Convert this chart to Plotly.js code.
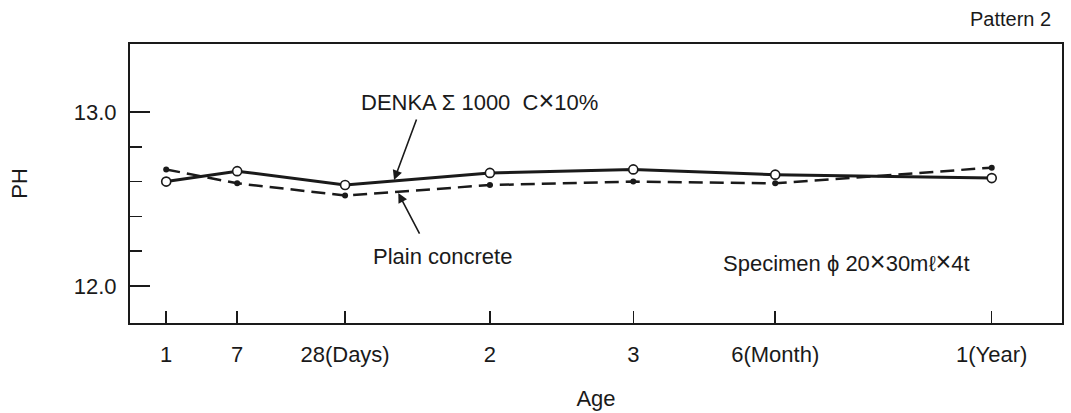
<!DOCTYPE html>
<html>
<head>
<meta charset="utf-8">
<script src="https://cdn.plot.ly/plotly-3.0.1.min.js"></script>
<style>
  html, body { margin: 0; padding: 0; background: #ffffff; }
  #chart { width: 1071px; height: 413px; }
</style>
</head>
<body>
<div id="chart"></div>
<script>
// Age categories (positions along the axis follow the original, uneven spacing)
const ageLabels = ["1", "7", "28(Days)", "2", "3", "6(Month)", "1(Year)"];
const agePos = [0, 1, 2.52, 4.56, 6.58, 8.58, 11.63];

// pH values
const denkaPH = [12.60, 12.66, 12.58, 12.65, 12.67, 12.64, 12.62];
const plainPH = [12.67, 12.59, 12.52, 12.58, 12.60, 12.59, 12.68];

// minor pH ticks between the labelled values
const minorPH = [12.2, 12.4, 12.6, 12.8];

const FONT = "Liberation Sans, Arial, Helvetica, sans-serif";
const INK = "#1a1a1a";
const X = '<span style="font-size:27px">×</span>';

const traces = [
  {
    x: agePos, y: plainPH, type: "scatter", mode: "lines+markers",
    name: "Plain concrete",
    line: { color: INK, width: 2.5, dash: "14px,7px" },
    marker: { color: INK, size: 6, symbol: "circle" },
    hoverinfo: "skip"
  },
  {
    x: agePos, y: denkaPH, type: "scatter", mode: "lines+markers",
    name: "DENKA Σ1000 C×10%",
    line: { color: INK, width: 3 },
    marker: { color: "#ffffff", size: 9, symbol: "circle", line: { color: INK, width: 1.6 } },
    hoverinfo: "skip"
  }
];

const layout = {
  width: 1071, height: 413,
  margin: { l: 130, r: 9, t: 44, b: 90 },
  paper_bgcolor: "#ffffff", plot_bgcolor: "#ffffff",
  showlegend: false,
  font: { family: FONT, size: 22, color: INK },
  xaxis: {
    range: [-0.51, 12.62],
    tickmode: "array", tickvals: agePos, ticktext: ageLabels,
    ticks: "inside", ticklen: 12, tickwidth: 1.5, tickcolor: INK,
    ticklabelstandoff: 11,
    showgrid: false, zeroline: false,
    showline: true, linecolor: INK, linewidth: 2, mirror: true,
    tickfont: { family: FONT, size: 22, color: INK },
    title: { text: "Age", font: { family: FONT, size: 22, color: INK }, standoff: 24 }
  },
  yaxis: {
    range: [11.787, 13.391],
    tick0: 12, dtick: 1, tickformat: ".1f",
    ticks: "inside", ticklen: 20, tickwidth: 1.5, tickcolor: INK,
    minor: { tickmode: "array", tickvals: minorPH, ticks: "inside", ticklen: 12, tickwidth: 1.5, tickcolor: INK, showgrid: false },
    ticklabelstandoff: 7,
    showgrid: false, zeroline: false,
    showline: true, linecolor: INK, linewidth: 2, mirror: true,
    tickfont: { family: FONT, size: 22, color: INK },
    title: { text: "PH", font: { family: FONT, size: 22, color: INK }, standoff: 40 }
  },
  annotations: [
    { xref: "paper", yref: "paper", x: 0.3755, y: 0.7957, xanchor: "center", yanchor: "middle",
      text: "DENKA Σ\u00a01000\u00a0\u00a0C" + X + "10%", showarrow: false, font: { family: FONT, size: 22, color: INK } },
    { xref: "x", yref: "y", x: 3.21, y: 12.609, ax: 23, ay: -62, axref: "pixel", ayref: "pixel",
      text: "", showarrow: true, arrowhead: 2, arrowsize: 1.2, arrowwidth: 1.6, arrowcolor: INK },
    { xref: "paper", yref: "paper", x: 0.3358, y: 0.240, xanchor: "center", yanchor: "middle",
      text: "Plain concrete", showarrow: false, font: { family: FONT, size: 22, color: INK } },
    { xref: "x", yref: "y", x: 3.27, y: 12.534, ax: 22, ay: 42, axref: "pixel", ayref: "pixel",
      text: "", showarrow: true, arrowhead: 2, arrowsize: 1.2, arrowwidth: 1.6, arrowcolor: INK },
    { xref: "paper", yref: "paper", x: 0.7688, y: 0.2186, xanchor: "center", yanchor: "middle",
      text: "Specimen ϕ 20" + X + "30mℓ" + X + "4t", showarrow: false, font: { family: FONT, size: 22, color: INK } },
    { xref: "paper", yref: "paper", x: 0.990, y: 1.0896, xanchor: "right", yanchor: "middle",
      text: "Pattern 2", showarrow: false, font: { family: FONT, size: 20, color: INK } }
  ]
};

Plotly.newPlot("chart", traces, layout, { staticPlot: true, displayModeBar: false });
</script>
</body>
</html>
